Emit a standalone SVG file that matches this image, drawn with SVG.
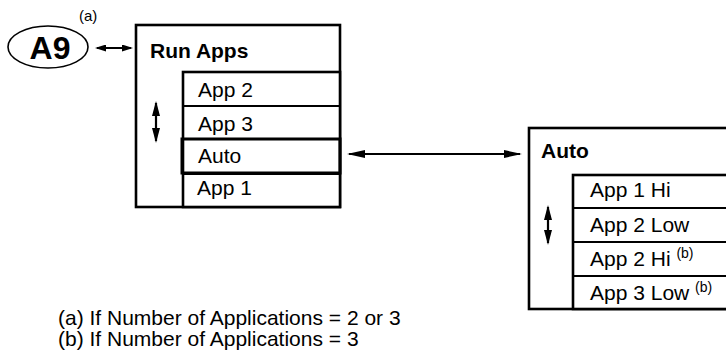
<svg xmlns="http://www.w3.org/2000/svg" width="726" height="358" viewBox="0 0 726 358">
<defs>
<style>
.box{fill:#fff;stroke:#000;stroke-width:2.6}
.hl{fill:none;stroke:#000;stroke-width:3}
.ln{stroke:#000;stroke-width:2.2;fill:none}
.t{font-family:"Liberation Sans",Arial,sans-serif;font-size:21px;fill:#000}
.b{font-weight:bold}
.sup{font-size:14px}
</style>
<marker id="big" viewBox="0 0 18 8" refX="16" refY="4" markerWidth="18" markerHeight="8" markerUnits="userSpaceOnUse" orient="auto-start-reverse"><path d="M0,0 L18,4 L0,8 z" fill="#000"/></marker>
<marker id="sm" viewBox="0 0 11 7" refX="9" refY="3.5" markerWidth="11" markerHeight="7" markerUnits="userSpaceOnUse" orient="auto-start-reverse"><path d="M0,0 L11,3.5 L0,7 z" fill="#000"/></marker>
<marker id="vt" viewBox="0 0 15 8" refX="13" refY="4" markerWidth="15" markerHeight="8" markerUnits="userSpaceOnUse" orient="auto-start-reverse"><path d="M0,0 L15,4 L0,8 z" fill="#000"/></marker>
</defs>

<g id="a9">
<ellipse cx="48" cy="47" rx="40" ry="21" fill="#fff" stroke="#000" stroke-width="1.6"/>
<text class="t b" x="50" y="59" text-anchor="middle" style="font-size:32px">A9</text>
<text class="t" x="79" y="21" style="font-size:15px">(a)</text>
</g>

<g id="run-apps">
<rect class="box" x="136" y="25" width="204" height="182"/>
<text class="t b" x="150" y="58">Run Apps</text>
<rect class="box" x="183" y="72" width="157" height="135"/>
<line class="ln" x1="183" y1="106" x2="340" y2="106"/>
<line class="ln" x1="183" y1="174" x2="340" y2="174"/>
<rect class="hl" x="182" y="139" width="158" height="34"/>
<text class="t" x="198" y="97">App 2</text>
<text class="t" x="198" y="131">App 3</text>
<text class="t" x="198" y="163">Auto</text>
<text class="t" x="197" y="195">App 1</text>
<line class="ln" x1="156" y1="103" x2="156" y2="141" marker-start="url(#vt)" marker-end="url(#vt)"/>
</g>

<g id="auto">
<rect class="box" x="529" y="128" width="220" height="181"/>
<text class="t b" x="541" y="158">Auto</text>
<rect class="box" x="573" y="175" width="180" height="134"/>
<line class="ln" x1="573" y1="208" x2="726" y2="208"/>
<line class="ln" x1="573" y1="242" x2="726" y2="242"/>
<line class="ln" x1="573" y1="276" x2="726" y2="276"/>
<text class="t" x="590" y="197">App 1 Hi</text>
<text class="t" x="590" y="232">App 2 Low</text>
<text class="t" x="590" y="266">App 2 Hi <tspan class="sup" dy="-8">(b)</tspan></text>
<text class="t" x="590" y="300">App 3 Low <tspan class="sup" dy="-8">(b)</tspan></text>
<line class="ln" x1="548" y1="207" x2="548" y2="243" marker-start="url(#vt)" marker-end="url(#vt)"/>
</g>

<g id="connectors">
<line class="ln" x1="97" y1="48" x2="131" y2="48" marker-start="url(#sm)" marker-end="url(#sm)"/>
<line class="ln" x1="349" y1="154" x2="520" y2="154" marker-start="url(#big)" marker-end="url(#big)"/>
</g>

<g id="notes">
<text class="t" x="58" y="325">(a) If Number of Applications = 2 or 3</text>
<text class="t" x="58" y="346">(b) If Number of Applications = 3</text>
</g>
</svg>
